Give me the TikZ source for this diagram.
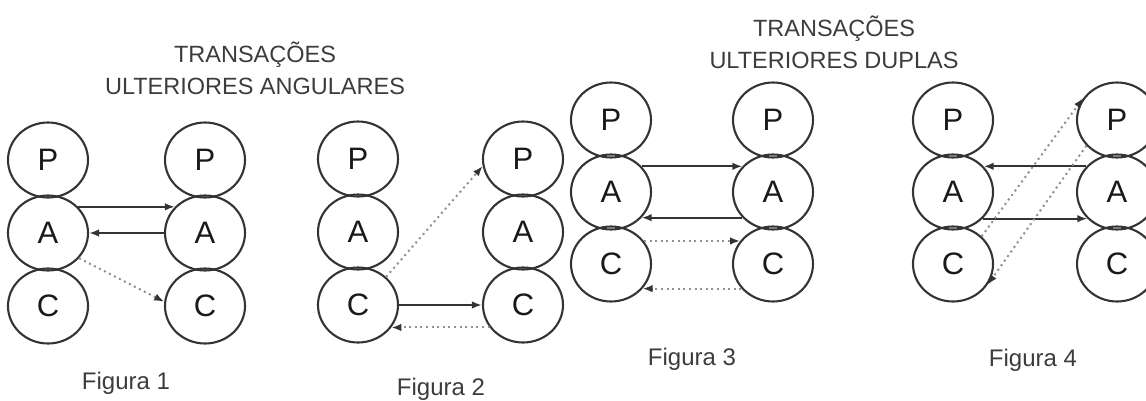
\documentclass[tikz,border=0pt]{standalone}
\usepackage{fontspec}
\setmainfont{Liberation Sans}
\usetikzlibrary{shapes.geometric,arrows.meta}

\definecolor{ink}{HTML}{333333}
\definecolor{label}{HTML}{3C3C3C}
\definecolor{dots}{HTML}{909090}

\tikzset{
  ego/.style={ellipse, draw=ink, line width=2.1pt, minimum width=80pt,
    minimum height=75pt, inner sep=0pt, text=black!90,
    font=\fontsize{31}{34}\selectfont},
  heading/.style={text=label, align=center, font=\fontsize{23.5}{32}\selectfont},
  caption/.style={text=label, anchor=base, font=\fontsize{24}{28}\selectfont},
  solidarrow/.style={draw=ink, line width=2pt, -{Latex[length=10pt,width=7.5pt]}},
  dotarrow/.style={draw=dots, line width=2pt, dash pattern=on 2pt off 3.6pt,
    -{Latex[length=10pt,width=7.5pt,color=ink]}}
}

% Parent / Adult / Child stack: name prefix, x, y of P, row spacing
\newcommand{\egostack}[4]{%
  \node[ego] (#1P) at (#2,#3) {P};
  \node[ego] (#1A) at (#2,#3+#4) {A};
  \node[ego] (#1C) at (#2,#3+2*#4) {C};
}

\begin{document}
\begin{tikzpicture}[x=1pt,y=-1pt]
\useasboundingbox (0,0) rectangle (1146,400);
\clip (0,0) rectangle (1146,400);

% headings
\node[heading] (h1) at (255,68) {TRANSAÇÕES\\ULTERIORES ANGULARES};
\node[heading] (h2) at (834,42) {TRANSAÇÕES\\ULTERIORES DUPLAS};

% Figura 1
\egostack{a}{48}{160}{73}
\egostack{b}{205}{160}{73}
\draw[solidarrow] (aA.41) -- (bA.139);
\draw[solidarrow] (bA.west) -- (aA.east);
\draw[dotarrow] (aA.-39) -- (bC.174);
\node[caption] (c1) at (126,389) {Figura 1};

% Figura 2
\egostack{c}{358}{159}{73}
\egostack{d}{523}{159}{73}
\draw[dotarrow] (cC.45) -- (dP.190);
\draw[solidarrow] (cC.east) -- (dC.west);
\draw[dotarrow] (dC.-146) -- (cC.-34);
\node[caption] (c2) at (441,395) {Figura 2};

% Figura 3
\egostack{e}{611}{120}{72}
\egostack{f}{773}{120}{72}
\draw[solidarrow] (eA.40) -- (fA.140);
\draw[solidarrow] (fA.-140) -- (eA.-40);
\draw[dotarrow] (eC.35) -- (fC.145);
\draw[dotarrow] (fC.-142) -- (eC.-38);
\node[caption] (c3) at (692,365) {Figura 3};

% Figura 4
\egostack{g}{953}{120}{72}
\egostack{h}{1117}{120}{72}
\draw[solidarrow] (hA.140) -- (gA.40);
\draw[solidarrow] (gA.-42) -- (hA.-138);
\draw[dotarrow] (gC.44) -- (hP.147);
\draw[dotarrow] (hP.-140) -- (gC.-31);
\node[caption] (c4) at (1033,366) {Figura 4};
\end{tikzpicture}
\end{document}
